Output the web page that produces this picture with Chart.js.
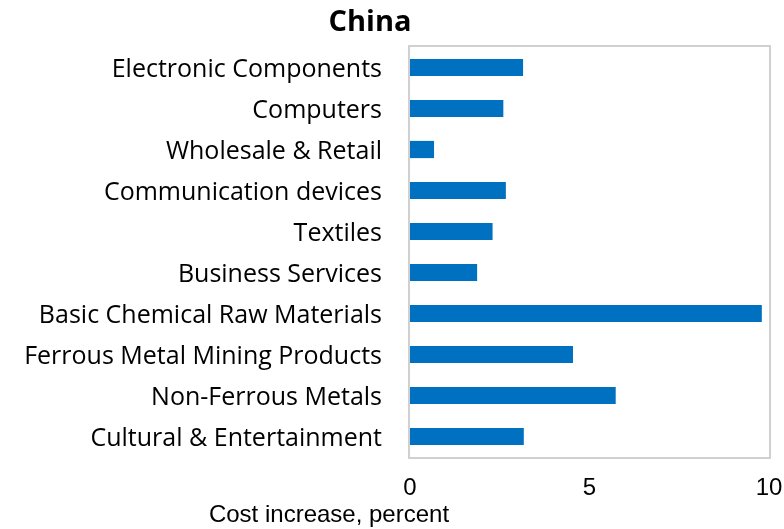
<!DOCTYPE html>
<html>
<head>
<meta charset="utf-8">
<script src="https://cdn.jsdelivr.net/npm/chart.js@4/dist/chart.umd.min.js"></script>
<style>
  html, body { margin: 0; padding: 0; background: #fff; }
  #wrap { width: 784px; height: 529px; }
</style>
</head>
<body>
<div id="wrap"><canvas id="chart" width="784" height="529"></canvas></div>
<script>
const categories = [
  'Electronic Components', 'Computers', 'Wholesale & Retail', 'Communication devices',
  'Textiles', 'Business Services', 'Basic Chemical Raw Materials',
  'Ferrous Metal Mining Products', 'Non-Ferrous Metals', 'Cultural & Entertainment'
]
const costIncrease = [3.15, 2.6, 0.67, 2.67, 2.3, 1.87, 9.8, 4.54, 5.73, 3.17]
const xTicks = [0, 5, 10]

const BAR_COLOR = '#0070C0'
const LABEL_FONT = '"Open Sans", "Noto Sans", sans-serif'
const NUM_FONT = '"Liberation Sans", Arial, sans-serif'

// plot frame + free-positioned texts (title, axis title)
const decorations = {
  id: 'decorations',
  beforeDraw(chart) {
    const { ctx, chartArea: a } = chart
    ctx.save()
    ctx.strokeStyle = '#d0d0d0'
    ctx.lineWidth = 2
    ctx.strokeRect(a.left - 1, a.top - 1, a.right - a.left + 2, a.bottom - a.top + 2)
    ctx.restore()
  },
  afterDraw(chart) {
    const { ctx } = chart
    ctx.save()
    ctx.fillStyle = '#000'
    ctx.textAlign = 'center'
    ctx.textBaseline = 'middle'
    ctx.font = 'bold 29px ' + LABEL_FONT
    ctx.fillText('China', 370, 23)
    ctx.font = '24px ' + NUM_FONT
    ctx.fillText('Cost increase, percent', 329, 515)
    ctx.restore()
  }
}

new Chart(document.getElementById('chart'), {
  type: 'bar',
  data: {
    labels: categories,
    datasets: [{
      data: costIncrease,
      backgroundColor: BAR_COLOR,
      categoryPercentage: 1,
      barPercentage: 0.42
    }]
  },
  options: {
    indexAxis: 'y',
    responsive: false,
    animation: false,
    layout: { padding: { top: 47, right: 0, left: 0, bottom: 0 } },
    plugins: { legend: { display: false }, tooltip: { enabled: false } },
    scales: {
      x: {
        min: 0, max: 10,
        afterBuildTicks: s => { s.ticks = xTicks.map(v => ({ value: v })) },
        afterFit: s => { s.height = 72; s.paddingRight = 15 },
        grid: { display: false, drawTicks: false },
        border: { display: false },
        ticks: {
          color: '#000',
          padding: 17,
          maxRotation: 0,
          font: { family: NUM_FONT, size: 24 }
        }
      },
      y: {
        afterFit: s => { s.width = 410 },
        grid: { display: false, drawTicks: false },
        border: { display: false },
        ticks: {
          color: '#000',
          padding: 28,
          labelOffset: 2,
          font: { family: LABEL_FONT, size: 25 }
        }
      }
    }
  },
  plugins: [decorations]
})
</script>
</body>
</html>
